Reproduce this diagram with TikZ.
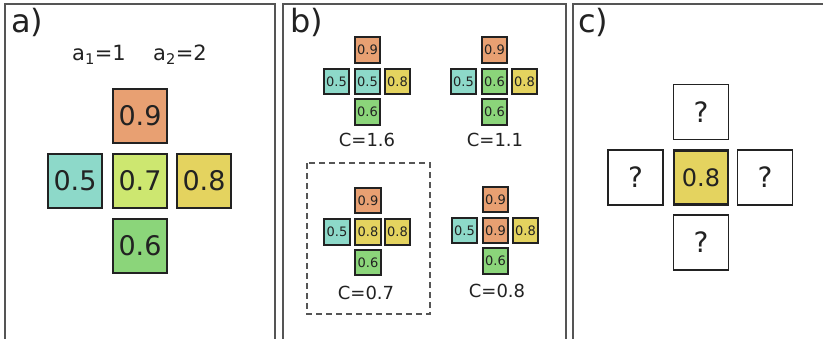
\documentclass[tikz,border=0pt]{standalone}
\usepackage{fontspec}
\setmainfont{DejaVu Sans}
\definecolor{corange}{HTML}{E8A072}
\definecolor{cteal}{HTML}{8DD9C9}
\definecolor{clime}{HTML}{CDE770}
\definecolor{cyellow}{HTML}{E4D35F}
\definecolor{cgreen}{HTML}{8BD57A}
\definecolor{ink}{HTML}{222222}
\definecolor{framec}{HTML}{555555}
\begin{document}
\begin{tikzpicture}[x=1pt,y=-1pt,
  cell/.style={draw=ink, line width=2pt, minimum size=54pt, inner sep=0pt, text=ink, font=\fontsize{27}{27}\selectfont},
  scell/.style={draw=ink, line width=1.8pt, minimum size=25.5pt, inner sep=0pt, text=ink, font=\fontsize{13}{13}\selectfont},
  qcell/.style={draw=ink, line width=1.3pt, minimum size=55pt, inner sep=0pt, text=ink, font=\fontsize{28}{28}\selectfont},
  ccell/.style={draw=ink, line width=2.2pt, minimum size=54pt, inner sep=0pt, text=ink, font=\fontsize{24}{24}\selectfont},
  plabel/.style={anchor=north west, inner sep=0pt, text=ink, font=\fontsize{32}{32}\selectfont},
  clabel/.style={inner sep=0pt, text=ink, font=\fontsize{18}{18}\selectfont},
  alabel/.style={inner sep=0pt, text=ink, font=\fontsize{21}{21}\selectfont},
  panel/.style={draw=framec, line width=1.5pt}]
\useasboundingbox (0,0) rectangle (823,338);
% panel frames
\draw[panel] (5,340) -- (5,4) -- (275,4) -- (275,340);
\draw[panel] (283,340) -- (283,4) -- (566,4) -- (566,340);
\draw[panel] (573,340) -- (573,4) -- (825,4);
% panel labels
\node[plabel] (la) at (11,8) {a)};
\node[plabel] (lb) at (290,8) {b)};
\node[plabel] (lc) at (578,8) {c)};
% panel a
\node[alabel] (a1) at (99,55) {a\textsubscript{1}=1};
\node[alabel] (a2) at (180,55) {a\textsubscript{2}=2};
\node[cell, fill=corange] (at) at (140,116) {0.9};
\node[cell, fill=cteal] (al) at (75,181) {0.5};
\node[cell, fill=clime] (ac) at (140,181) {0.7};
\node[cell, fill=cyellow] (ar) at (204,181) {0.8};
\node[cell, fill=cgreen] (ab) at (140,246) {0.6};
% panel b, cross 1
\node[scell, fill=corange] (b1t) at (367.5,50) {0.9};
\node[scell, fill=cteal] (b1l) at (336.5,81.5) {0.5};
\node[scell, fill=cteal] (b1c) at (367.5,81.5) {0.5};
\node[scell, fill=cyellow] (b1r) at (397.5,81.5) {0.8};
\node[scell, fill=cgreen] (b1b) at (367.5,112) {0.6};
\node[clabel] (c1) at (367,140) {C=1.6};
% cross 2
\node[scell, fill=corange] (b2t) at (494.5,50) {0.9};
\node[scell, fill=cteal] (b2l) at (463.5,81.5) {0.5};
\node[scell, fill=cgreen] (b2c) at (494.5,81.5) {0.6};
\node[scell, fill=cyellow] (b2r) at (524.5,81.5) {0.8};
\node[scell, fill=cgreen] (b2b) at (494.5,112) {0.6};
\node[clabel] (c2) at (495,140) {C=1.1};
% cross 3 (selected)
\draw[framec, line width=1.3pt, dash pattern=on 6pt off 4pt] (307,163) rectangle (430,314);
\node[scell, fill=corange] (b3t) at (368,200.5) {0.9};
\node[scell, fill=cteal] (b3l) at (337,232) {0.5};
\node[scell, fill=cyellow] (b3c) at (368,232) {0.8};
\node[scell, fill=cyellow] (b3r) at (397.5,232) {0.8};
\node[scell, fill=cgreen] (b3b) at (368,262.5) {0.6};
\node[clabel] (c3) at (366,293) {C=0.7};
% cross 4
\node[scell, fill=corange] (b4t) at (495.5,199.5) {0.9};
\node[scell, fill=cteal] (b4l) at (464.5,230.5) {0.5};
\node[scell, fill=corange] (b4c) at (495.5,230.5) {0.9};
\node[scell, fill=cyellow] (b4r) at (525.5,230.5) {0.8};
\node[scell, fill=cgreen] (b4b) at (495.5,261) {0.6};
\node[clabel] (c4) at (497,291) {C=0.8};
% panel c
\node[qcell] (qt) at (701,112) {?};
\node[qcell] (ql) at (635.5,177.5) {?};
\node[ccell, fill=cyellow] (qc) at (701,177.5) {0.8};
\node[qcell] (qr) at (765,177.5) {?};
\node[qcell] (qb) at (701,242.5) {?};
\end{tikzpicture}
\end{document}
